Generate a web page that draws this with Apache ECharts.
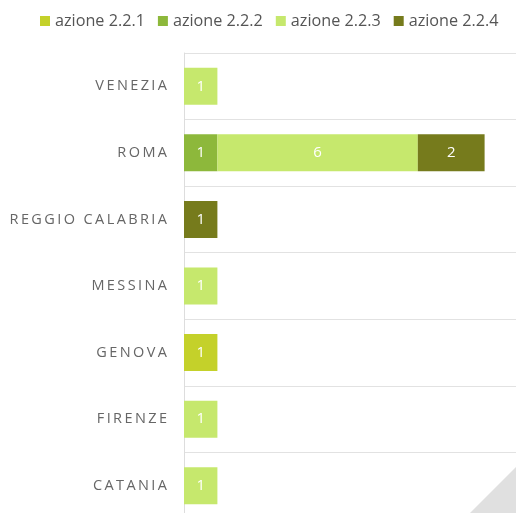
<!DOCTYPE html>
<html><head><meta charset="utf-8">
<script src="https://cdn.jsdelivr.net/npm/echarts@6/dist/echarts.min.js"></script>
<style>html,body{margin:0;padding:0;background:#fff}#c{width:516px;height:513px}</style>
</head><body><div id="c"></div>
<script>
const categories = ['VENEZIA','ROMA','REGGIO CALABRIA','MESSINA','GENOVA','FIRENZE','CATANIA'];
const seriesNames = ['azione 2.2.1','azione 2.2.2','azione 2.2.3','azione 2.2.4'];
const azione221 = [null, null, null, null, 1, null, null];
const azione222 = [null, 1, null, null, null, null, null];
const azione223 = [1, 6, null, 1, null, 1, 1];
const azione224 = [null, 2, 1, null, null, null, null];
const colors = ['#c4d12a','#8db83b','#c6e86d','#767b1c'];
const values = [azione221, azione222, azione223, azione224];

const chart = echarts.init(document.getElementById('c'));
chart.setOption({
  animation: false,
  color: colors,
  legend: {
    top: 13, left: 40, width: 476, padding: 0, itemWidth: 10, itemHeight: 10, itemGap: 13,
    icon: 'rect',
    textStyle: {color: '#555', fontSize: 16.2, fontFamily: '"Open Sans", sans-serif'},
    data: seriesNames
  },
  grid: {left: 184, top: 53, width: 334, height: 466, containLabel: false, outerBoundsMode: 'none'},
  xAxis: {type: 'value', min: 0, max: 10, show: false},
  yAxis: {
    type: 'category', data: categories, inverse: true,
    axisLine: {show: true, lineStyle: {color: '#dddddd', width: 1}},
    axisTick: {show: false},
    splitLine: {show: true, lineStyle: {color: '#e2e2e2', width: 1}},
    axisLabel: {color: '#666', fontSize: 14.5, margin: 17, fontFamily: '"Open Sans", sans-serif',
      formatter: v => v.split('').join('\u2009')}
  },
  series: seriesNames.map((n, i) => ({
    name: n, type: 'bar', stack: 'tot', barWidth: 37, data: values[i],
    label: {show: true, position: 'inside', color: '#fff', fontSize: 15, fontFamily: '"Open Sans", sans-serif'}
  })),
  graphic: [{
    type: 'polygon', silent: true,
    shape: {points: [[470, 513], [516, 467], [516, 513]]},
    style: {fill: '#e0e0e0'}
  }]
});
</script></body></html>
